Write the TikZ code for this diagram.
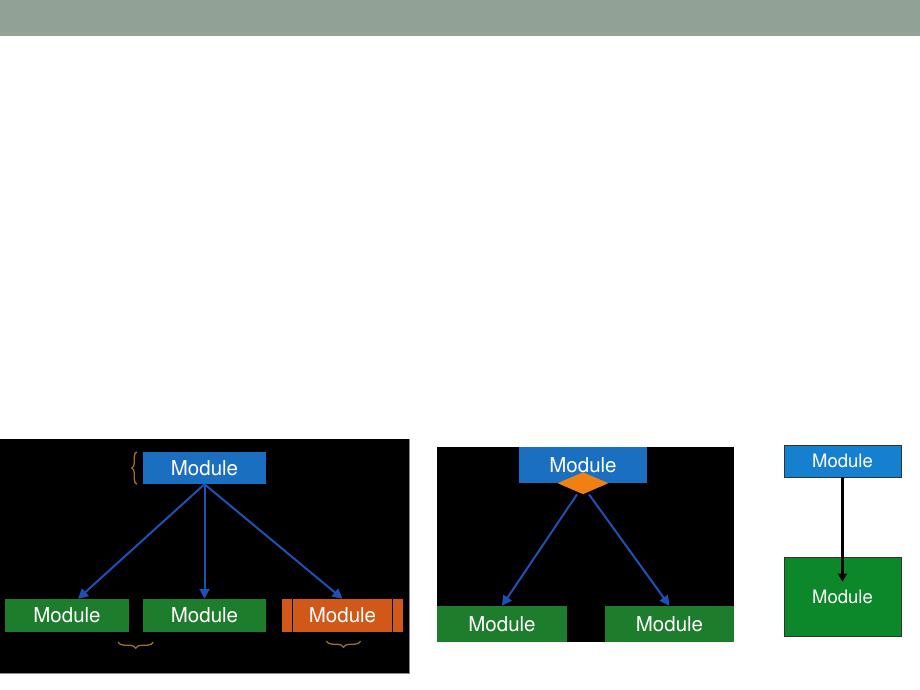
\documentclass[tikz,border=0pt]{standalone}
\usepackage{fontspec}
\setmainfont{TeX Gyre Heros}
\usetikzlibrary{arrows.meta,shapes.geometric,decorations.pathreplacing}
\definecolor{header}{RGB}{146,161,150}
\definecolor{blueA}{RGB}{27,111,192}
\definecolor{blueC}{RGB}{22,128,208}
\definecolor{greenA}{RGB}{30,125,45}
\definecolor{greenC}{RGB}{12,135,42}
\definecolor{orangeA}{RGB}{210,88,26}
\definecolor{orangeD}{RGB}{240,128,16}
\definecolor{braceC}{RGB}{155,112,48}
\definecolor{arrowB}{RGB}{31,80,180}
\tikzset{
  modbox/.style={inner sep=0pt, text=white, font=\fontsize{20.5}{24}\selectfont},
  smallbox/.style={inner sep=0pt, text=white, font=\fontsize{18.5}{22}\selectfont, draw=black!80, line width=0.8pt},
  blueflow/.style={draw=arrowB, line width=2pt, -{Triangle[length=10pt,width=10pt]}},
  bracestyle/.style={draw=braceC, line width=1.3pt, decorate},
  panel/.style={fill=black}
}
\begin{document}
\begin{tikzpicture}[x=1pt,y=-1pt]
\useasboundingbox (0,0) rectangle (920,690);
\fill[white] (0,0) rectangle (920,690);
\fill[header] (0,0) rectangle (920,36);

% panel 1
\fill[panel] (0,439) rectangle (409,673);
\draw[black!45, line width=0.8pt] (0,673) -- (409,673) -- (409,439);
\node[modbox, fill=blueA, minimum width=123pt, minimum height=32pt] (t1) at (204.5,468) {Module};
\node[modbox, fill=greenA, minimum width=124pt, minimum height=33pt] (g1) at (67,615.5) {Module};
\node[modbox, fill=greenA, minimum width=123pt, minimum height=33pt] (g2) at (204.5,615.5) {Module};
\node[modbox, fill=orangeA, minimum width=121pt, minimum height=33pt] (o1) at (342.5,615.5) {Module};
\draw[black, line width=0.8pt] ([xshift=11pt]o1.north west) -- ([xshift=11pt]o1.south west);
\draw[black, line width=0.8pt] ([xshift=-11pt]o1.north east) -- ([xshift=-11pt]o1.south east);
\draw[blueflow] (t1.south) -- ([xshift=11pt]g1.north);
\draw[blueflow] (t1.south) -- (g2.north);
\draw[blueflow] (t1.south) -- (o1.north);
\draw[bracestyle, decoration={brace, amplitude=5pt}] ([xshift=-6pt]t1.south west) -- ([xshift=-6pt]t1.north west);
\draw[bracestyle, decoration={brace, amplitude=6pt}] ([xshift=24pt, yshift=-10pt]g1.south east) -- ([xshift=-11pt, yshift=-10pt]g1.south east);
\draw[bracestyle, decoration={brace, amplitude=6pt}] ([xshift=18pt, yshift=-9pt]o1.south) -- ([xshift=-16pt, yshift=-9pt]o1.south);

% panel 2
\fill[panel] (437,447) rectangle (734,642);
\node[modbox, fill=blueA, minimum width=128pt, minimum height=36pt] (t2) at (583,465) {Module};
\node[draw=none, fill=orangeD, shape=diamond, inner sep=0pt, minimum width=51pt, minimum height=22pt] (dia) at (t2.south) {};
\node[modbox, fill=greenA, minimum width=130pt, minimum height=36pt] (gl) at (502,624) {Module};
\node[modbox, fill=greenA, minimum width=129pt, minimum height=36pt] (gr) at (669.5,624) {Module};
\draw[blueflow] ([xshift=-6pt]dia.south) -- (gl.north);
\draw[blueflow] ([xshift=6pt]dia.south) -- (gr.north);

% panel 3
\node[smallbox, fill=blueC, minimum width=117pt, minimum height=32pt] (t3) at (842.5,461) {Module};
\node[smallbox, fill=greenC, minimum width=117pt, minimum height=79pt] (g3) at (842.5,596.5) {Module};
\draw[black, line width=2.2pt, -{Triangle[length=8pt,width=9pt]}] (t3.south) -- ([yshift=-25pt]g3.north);
\end{tikzpicture}
\end{document}
